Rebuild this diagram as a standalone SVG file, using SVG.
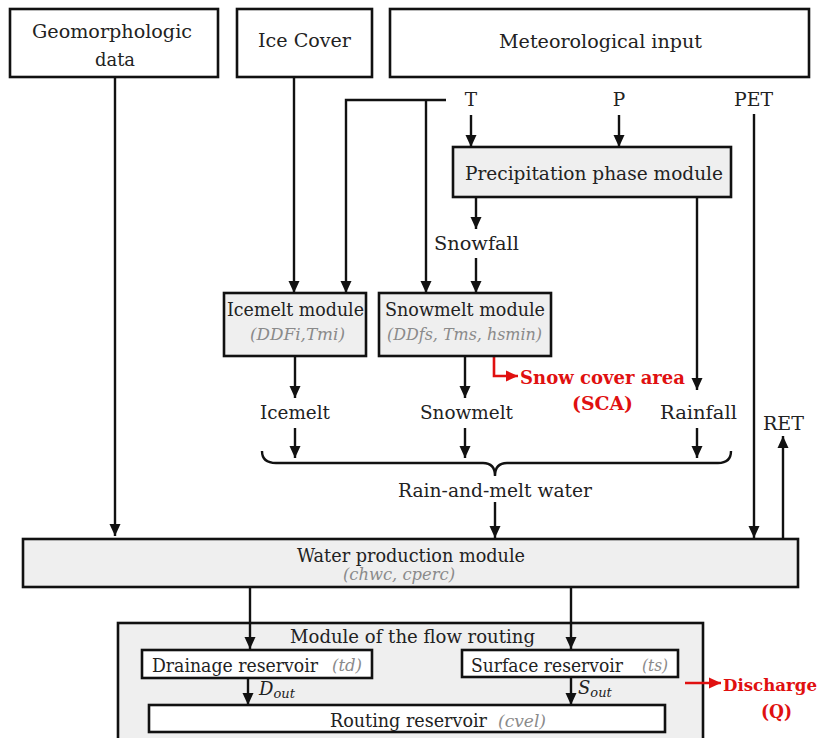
<svg xmlns="http://www.w3.org/2000/svg" width="824" height="738" viewBox="0 0 824 738">
<style>
  text { font-family: "DejaVu Serif", "Liberation Serif", serif; fill: #222; }
  .t { font-size: 18.5px; }
  .p { font-size: 16px; font-style: italic; fill: #8a8a8a; }
  .red { font-size: 18.5px; font-weight: bold; fill: #e01010; }
  .box { fill: #ffffff; stroke: #111; stroke-width: 2.6; }
  .mod { fill: #efefef; stroke: #111; stroke-width: 2.6; }
  .ln { fill: none; stroke: #111; stroke-width: 2.4; }
  .arr { fill: none; stroke: #111; stroke-width: 2.4; marker-end: url(#ah); }
  .rarr { fill: none; stroke: #e01010; stroke-width: 2.6; marker-end: url(#rh); }
</style>
<defs>
  <marker id="ah" markerUnits="userSpaceOnUse" markerWidth="12" markerHeight="12" refX="12" refY="6" orient="auto">
    <path d="M0,0.5 L12,6 L0,11.5 z" fill="#111"/>
  </marker>
  <marker id="rh" markerUnits="userSpaceOnUse" markerWidth="12" markerHeight="12" refX="12" refY="6" orient="auto">
    <path d="M0,0.5 L12,6 L0,11.5 z" fill="#e01010"/>
  </marker>
</defs>
<rect width="824" height="738" fill="#ffffff"/>

<g id="routing-module">
  <rect class="mod" x="118" y="623" width="585" height="125"/>
  <text class="t" x="290" y="643" textLength="245" lengthAdjust="spacingAndGlyphs">Module of the flow routing</text>
</g>

<g id="connectors">
  <line class="arr" x1="115" y1="77" x2="115" y2="536"/>
  <line class="arr" x1="294" y1="77" x2="294" y2="293"/>
  <polyline class="arr" points="446,100 346,100 346,293"/>
  <line class="arr" x1="426" y1="100" x2="426" y2="293"/>
  <line class="arr" x1="471" y1="115" x2="471" y2="147"/>
  <line class="arr" x1="619" y1="115" x2="619" y2="147"/>
  <line class="arr" x1="476" y1="197" x2="476" y2="229"/>
  <line class="arr" x1="476" y1="258" x2="476" y2="293"/>
  <line class="arr" x1="697" y1="197" x2="697" y2="390"/>
  <line class="arr" x1="754" y1="114" x2="754" y2="538"/>
  <line class="arr" x1="783" y1="538" x2="783" y2="436"/>
  <line class="arr" x1="295" y1="356" x2="295" y2="398"/>
  <line class="arr" x1="465" y1="356" x2="465" y2="398"/>
  <line class="arr" x1="295" y1="428" x2="295" y2="458"/>
  <line class="arr" x1="465" y1="428" x2="465" y2="458"/>
  <line class="arr" x1="697" y1="428" x2="697" y2="458"/>
  <path class="ln" d="M262,451 Q262,463 276,463 L483,463 Q495,463 495,476 Q495,463 507,463 L718,463 Q731,463 731,451"/>
  <line class="arr" x1="495" y1="502" x2="495" y2="538"/>
  <line class="arr" x1="250" y1="587" x2="250" y2="649"/>
  <line class="arr" x1="571" y1="587" x2="571" y2="649"/>
  <line class="arr" x1="248" y1="678" x2="248" y2="705"/>
  <line class="arr" x1="571" y1="677" x2="571" y2="705"/>
  <polyline class="rarr" points="494,357 494,376 518,376"/>
  <line class="rarr" x1="685" y1="683" x2="721" y2="683"/>
</g>

<g id="geomorphologic">
  <rect class="box" x="10" y="9" width="208" height="68"/>
  <text class="t" x="32" y="38" textLength="160" lengthAdjust="spacingAndGlyphs">Geomorphologic</text>
  <text class="t" x="95" y="66" textLength="40" lengthAdjust="spacingAndGlyphs">data</text>
</g>

<g id="ice-cover">
  <rect class="box" x="237" y="9" width="135" height="68"/>
  <text class="t" x="258" y="47" textLength="93" lengthAdjust="spacingAndGlyphs">Ice Cover</text>
</g>

<g id="meteorological">
  <rect class="box" x="390" y="9" width="419" height="68"/>
  <text class="t" x="499" y="48" textLength="203" lengthAdjust="spacingAndGlyphs">Meteorological input</text>
</g>

<g id="labels-met">
  <text class="t" x="471" y="106" text-anchor="middle">T</text>
  <text class="t" x="619" y="106" text-anchor="middle">P</text>
  <text class="t" x="734" y="106" textLength="39" lengthAdjust="spacingAndGlyphs">PET</text>
</g>

<g id="precipitation-phase">
  <rect class="mod" x="453" y="147" width="278" height="50"/>
  <text class="t" x="465" y="180" textLength="258" lengthAdjust="spacingAndGlyphs">Precipitation phase module</text>
</g>

<g id="snowfall">
  <text class="t" x="434" y="250" textLength="85" lengthAdjust="spacingAndGlyphs">Snowfall</text>
</g>

<g id="icemelt-module">
  <rect class="mod" x="224" y="293" width="142" height="63"/>
  <text class="t" x="227" y="316" textLength="137" lengthAdjust="spacingAndGlyphs">Icemelt module</text>
  <text class="p" x="250" y="340" textLength="95" lengthAdjust="spacingAndGlyphs">(DDFi,Tmi)</text>
</g>

<g id="snowmelt-module">
  <rect class="mod" x="379" y="293" width="172" height="63"/>
  <text class="t" x="385" y="316" textLength="160" lengthAdjust="spacingAndGlyphs">Snowmelt module</text>
  <text class="p" x="387" y="340" textLength="155" lengthAdjust="spacingAndGlyphs">(DDfs, Tms, hsmin)</text>
</g>

<g id="sca">
  <text class="red" x="520" y="384" textLength="165" lengthAdjust="spacingAndGlyphs">Snow cover area</text>
  <text class="red" x="572" y="410" textLength="61" lengthAdjust="spacingAndGlyphs">(SCA)</text>
</g>

<g id="melt-labels">
  <text class="t" x="260" y="419" textLength="70" lengthAdjust="spacingAndGlyphs">Icemelt</text>
  <text class="t" x="420" y="419" textLength="93" lengthAdjust="spacingAndGlyphs">Snowmelt</text>
  <text class="t" x="660" y="419" textLength="77" lengthAdjust="spacingAndGlyphs">Rainfall</text>
  <text class="t" x="763" y="430" textLength="41" lengthAdjust="spacingAndGlyphs">RET</text>
</g>

<g id="rain-and-melt">
  <text class="t" x="398" y="497" textLength="194" lengthAdjust="spacingAndGlyphs">Rain-and-melt water</text>
</g>

<g id="water-production">
  <rect class="mod" x="23" y="539" width="775" height="48"/>
  <text class="t" x="297" y="562" textLength="228" lengthAdjust="spacingAndGlyphs">Water production module</text>
  <text class="p" x="343" y="580" textLength="112" lengthAdjust="spacingAndGlyphs">(chwc, cperc)</text>
</g>

<g id="drainage-reservoir">
  <rect class="box" x="142" y="650" width="230" height="28"/>
  <text class="t" x="152" y="672" textLength="166" lengthAdjust="spacingAndGlyphs">Drainage reservoir</text>
  <text class="p" x="332" y="671" textLength="30" lengthAdjust="spacingAndGlyphs">(td)</text>
</g>

<g id="surface-reservoir">
  <rect class="box" x="462" y="650" width="216" height="27"/>
  <text class="t" x="471" y="672" textLength="152" lengthAdjust="spacingAndGlyphs">Surface reservoir</text>
  <text class="p" x="642" y="671" textLength="26" lengthAdjust="spacingAndGlyphs">(ts)</text>
</g>

<g id="flow-labels">
  <text x="259" y="695" style="font-size:18px;font-style:italic">D<tspan style="font-size:13px" dy="3">out</tspan></text>
  <text x="578" y="694" style="font-size:18px;font-style:italic">S<tspan style="font-size:13px" dy="3">out</tspan></text>
</g>

<g id="routing-reservoir">
  <rect class="box" x="149" y="705" width="516" height="27"/>
  <text class="t" x="330" y="727" textLength="157" lengthAdjust="spacingAndGlyphs">Routing reservoir</text>
  <text class="p" x="498" y="727" textLength="48" lengthAdjust="spacingAndGlyphs">(cvel)</text>
</g>

<g id="discharge">
  <text class="red" x="723" y="691" style="font-size:16.5px" textLength="94" lengthAdjust="spacingAndGlyphs">Discharge</text>
  <text class="red" x="761" y="718" textLength="31" lengthAdjust="spacingAndGlyphs">(Q)</text>
</g>
</svg>
